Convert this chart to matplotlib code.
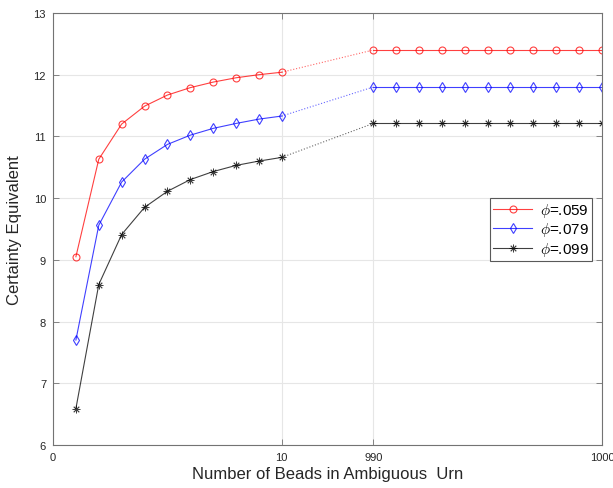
import matplotlib.pyplot as plt
import numpy as np

plt.rcParams['font.family'] = ['Liberation Sans', 'DejaVu Sans']
plt.rcParams['mathtext.fontset'] = 'cm'

# beads in ambiguous urn (two ranges)
beads_low = [1, 2, 3, 4, 5, 6, 7, 8, 9, 10]
beads_high = [990, 991, 992, 993, 994, 995, 996, 997, 998, 999, 1000]

# certainty equivalents for each phi
ce_059_low = [9.05, 10.63, 11.20, 11.49, 11.67, 11.79, 11.88, 11.95, 12.00, 12.04]
ce_079_low = [7.70, 9.56, 10.26, 10.63, 10.87, 11.02, 11.13, 11.21, 11.28, 11.33]
ce_099_low = [6.59, 8.60, 9.41, 9.85, 10.11, 10.30, 10.43, 10.53, 10.60, 10.66]
ce_059_high = [12.40] * 11
ce_079_high = [11.80] * 11
ce_099_high = [11.21] * 11

labels = [r'$\phi$=.059', r'$\phi$=.079', r'$\phi$=.099']
tick_vals = [0, 10, 990, 1000]


# compress the gap between 10 and 990 onto a shorter stretch of axis
def squeeze(x):
    x = np.asarray(x, dtype=float)
    return np.where(x <= 10, x, x - 976)


fig = plt.figure(figsize=(6.13, 4.89), dpi=100)
ax = fig.add_axes([0.0865, 0.088, 0.8955, 0.8834])

asterisk = (8, 2, 0)
series = [
    (ce_059_low, ce_059_high, 'o', 5, 0.8, (1, 0, 0)),
    (ce_079_low, ce_079_high, 'd', 5.5, 0.8, (0, 0, 1)),
    (ce_099_low, ce_099_high, asterisk, 5.5, 0.6, (0, 0, 0)),
]

for (lo, hi, mk, ms, mw, col), lab in zip(series, labels):
    ax.plot(squeeze(beads_low), lo, color=col, marker=mk, ms=ms,
            mfc='none', mew=mw, lw=0.8, alpha=0.75, label=lab)
    ax.plot(squeeze(beads_high), hi, color=col, marker=mk, ms=ms,
            mfc='none', mew=mw, lw=0.8, alpha=0.75)
    # dotted bridge across the gap
    ax.plot(squeeze([beads_low[-1], beads_high[0]]), [lo[-1], hi[0]],
            color=col, ls=':', lw=0.8, alpha=0.6)

ax.set_xlim(0, 24)
ax.set_ylim(6, 13)
ax.set_xticks(squeeze(tick_vals))
ax.set_xticklabels([str(t) for t in tick_vals])
ax.set_yticks(np.arange(6, 14, 1))

ax.grid(True, color='0.9', lw=0.8)
ax.set_axisbelow(True)
for s in ax.spines.values():
    s.set_color('0.45')
    s.set_linewidth(0.8)
ax.tick_params(direction='in', top=True, right=True, length=4, width=0.6,
               color='0.45', labelsize=8, labelcolor='0.15', pad=5)

ax.set_xlabel('Number of Beads in Ambiguous  Urn', fontsize=12, color='0.15', labelpad=3)
ax.set_ylabel('Certainty Equivalent', fontsize=12, color='0.15', labelpad=8)

leg = ax.legend(loc='upper right', bbox_to_anchor=(0.982, 0.572), borderaxespad=0,
                fancybox=False, framealpha=1, edgecolor='0.35', fontsize=11,
                handlelength=2.6, borderpad=0.2, labelspacing=0.1, handletextpad=0.5)
leg.get_frame().set_linewidth(0.8)

fig.savefig('out.png', dpi=100)
